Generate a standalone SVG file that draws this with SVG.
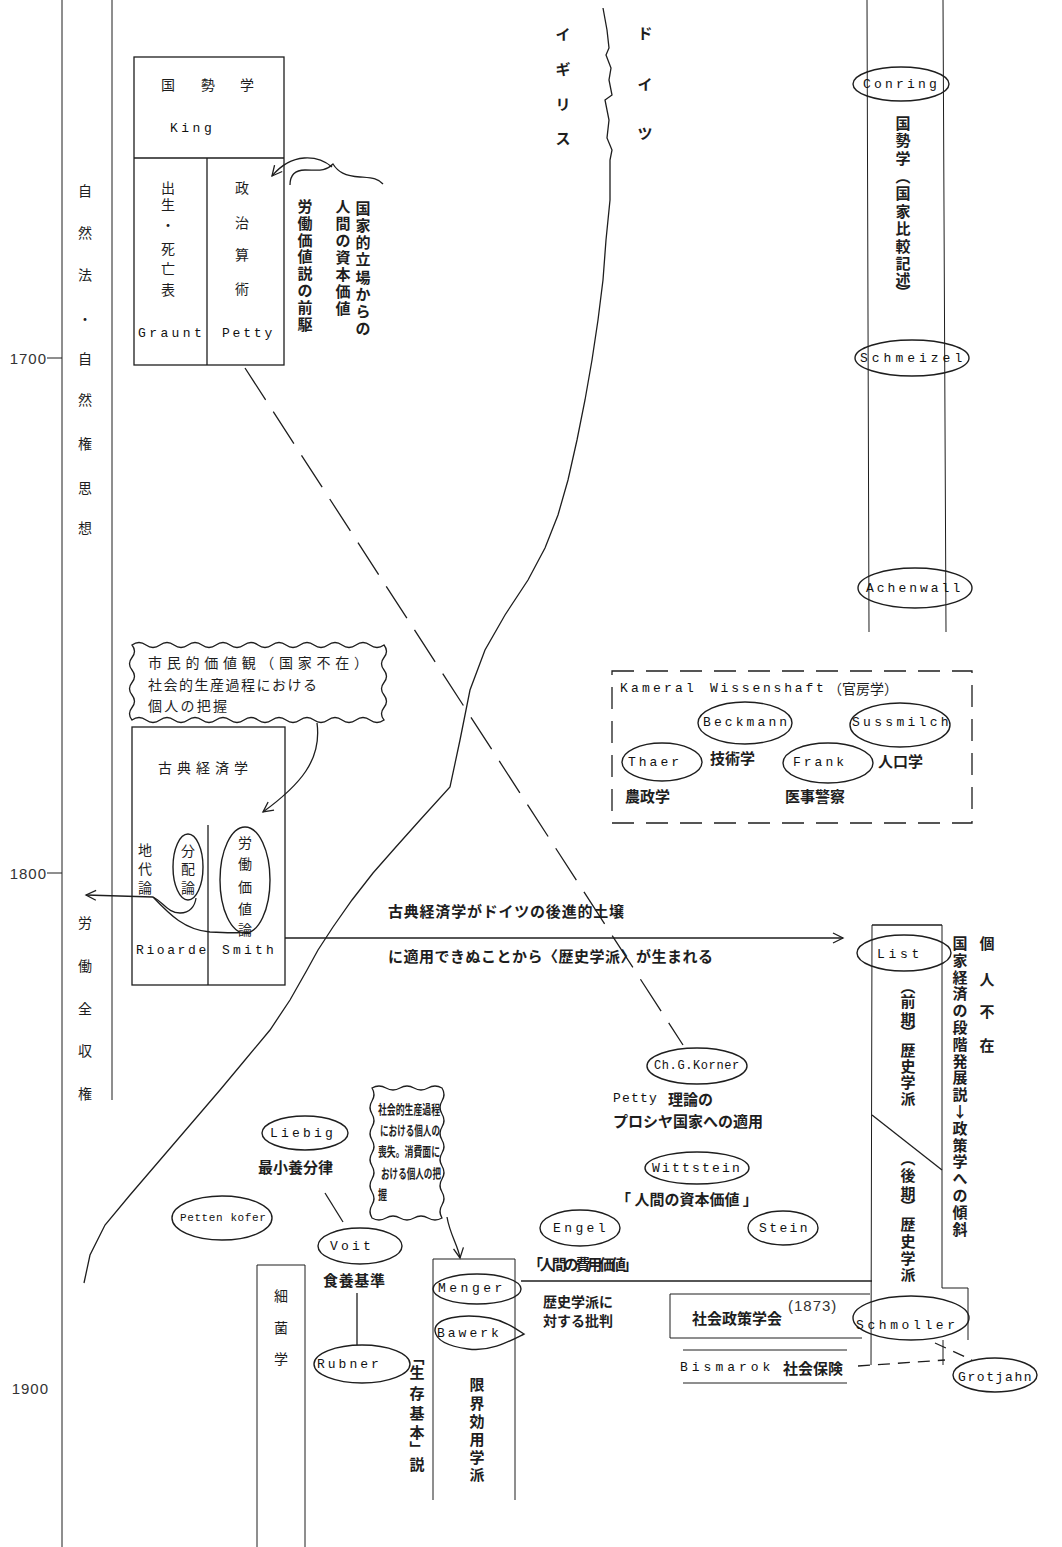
<svg xmlns="http://www.w3.org/2000/svg" width="1062" height="1547" viewBox="0 0 1062 1547">
<style>
.ln{fill:none;stroke:#1e1e1e;stroke-width:1.3}
.th{fill:none;stroke:#1e1e1e;stroke-width:1}
.dash{stroke-dasharray:38 14}
.kd{stroke-dasharray:22 12}
.sd{stroke-dasharray:12 8}
.el{fill:none;stroke:#1e1e1e;stroke-width:1.4}
.j{font-family:"Noto Sans CJK JP","Noto Sans CJK SC",sans-serif;font-size:14px;fill:#1e1e1e;dominant-baseline:central}
.jb{font-weight:bold;font-size:15px}
.v{text-anchor:middle}
.m{font-family:"Liberation Mono",monospace;font-size:13px;fill:#111;dominant-baseline:central}
.n{font-family:"Liberation Sans",sans-serif;font-size:15px;fill:#333;dominant-baseline:central;letter-spacing:1px}
</style>
<defs>
<marker id="ah" markerWidth="14" markerHeight="14" refX="11" refY="6" orient="auto" markerUnits="userSpaceOnUse">
<path d="M1,1 L11,6 L1,11" fill="none" stroke="#1e1e1e" stroke-width="1.3"/>
</marker>
</defs>
<rect width="1062" height="1547" fill="#ffffff"/>

<g id="timeline">
<line class="th" x1="62" y1="0" x2="62" y2="1547"/>
<line class="th" x1="112" y1="0" x2="112" y2="1100"/>
<text class="n" x="47" y="358" text-anchor="end">1700</text>
<line class="th" x1="47" y1="358" x2="62" y2="358"/>
<text class="n" x="47" y="873" text-anchor="end">1800</text>
<line class="th" x1="47" y1="873" x2="62" y2="873"/>
<text class="n" x="49" y="1388" text-anchor="end">1900</text>
<text class="j v" x="85 85 85 85 85 85 85 85 85" y="190 232 274 318 358 399 443 487 527">自然法・自然権思想</text>
<text class="j v" x="85 85 85 85 85" y="922 965 1008 1050 1093">労働全収権</text>
</g>

<g id="border">
<path class="ln" d="M603,8 L607,30 L609,48 L606,55 L611,68 L609,80 L612,95 L605,100 L609,120 L607,138 L612,150 L610,160 L610,200 L606,240 L603,280 L598,320 L592,360 L585,400 L577,440 L568,480 L558,515 L545,548 L528,580 L505,615 L485,650 L470,690 L460,740 L450,787 L420,820 L395,848 L373,873 L352,900 L333,927 L318,950 L307,970 L290,1000 L270,1030 L245,1060 L220,1090 L190,1125 L160,1160 L130,1195 L105,1225 L90,1255 L84,1283"/>
<text class="j jb v" x="563 563 563 563" y="33 68 103 137">イギリス</text>
<text class="j jb v" x="645 645 645" y="32 83 132">ドイツ</text>
</g>

<g id="kokuseigaku-uk">
<rect class="ln" x="134" y="57" width="150" height="308"/>
<line class="ln" x1="134" y1="158" x2="284" y2="158"/>
<line class="ln" x1="207" y1="158" x2="207" y2="365"/>
<text class="j v" x="168 208 247" y="84 84 84">国勢学</text>
<text class="m" x="170" y="128" style="letter-spacing:3.5px">King</text>
<text class="j v" x="168 168 168 168 168 168" y="187 204 224 248 268 289">出生・死亡表</text>
<text class="j v" x="242 242 242 242" y="187 222 254 288">政治算術</text>
<text class="m" x="138" y="333" style="letter-spacing:3.4px">Graunt</text>
<text class="m" x="222" y="333" style="letter-spacing:2.8px">Petty</text>
</g>

<g id="petty-note">
<text class="j jb v" x="305 305 305 305 305 305 305 305" y="205 222 239 255 272 289 306 323">労働価値説の前駆</text>
<text class="j jb v" x="343 343 343 343 343 343 343" y="205 222 239 256 273 290 307">人間の資本価値</text>
<text class="j jb v" x="363 363 363 363 363 363 363 363" y="207 224 241 258 276 293 310 327">国家的立場からの</text>
</g>

<g id="kokuseigaku-de">
<line class="th" x1="867" y1="0" x2="869" y2="632"/>
<line class="th" x1="943" y1="0" x2="946" y2="632"/>
<ellipse class="el" cx="901" cy="84" rx="48" ry="17" fill="#fff"/>
<text class="m" x="863" y="84" style="letter-spacing:3.2px">Conring</text>
<text class="j jb v" x="903 903 903 903 903 903 903 903 903 903 903" y="122 139 157 175 192 210 227 245 262 278 291">国勢学︵国家比較記述︶</text>
<ellipse class="el" cx="912" cy="358" rx="57" ry="18" fill="#fff"/>
<text class="m" x="860" y="358" style="letter-spacing:4px">Schmeizel</text>
<ellipse class="el" cx="915" cy="588" rx="57" ry="20" fill="#fff"/>
<text class="m" x="866" y="588" style="letter-spacing:3px">Achenwall</text>
</g>

<g id="kameral">
<rect class="ln kd" x="612" y="671" width="360" height="152"/>
<text class="m" x="620" y="688" style="letter-spacing:3.2px">Kameral</text>
<text class="m" x="710" y="688" style="letter-spacing:2.8px">Wissenshaft</text>
<text class="j" x="828" y="688">（官房学）</text>
<ellipse class="el" cx="745" cy="723" rx="47" ry="21"/>
<text class="m" x="703" y="722" style="letter-spacing:3.1px">Beckmann</text>
<ellipse class="el" cx="900" cy="725" rx="50" ry="22"/>
<text class="m" x="852" y="722" style="letter-spacing:3.3px">Sussmilch</text>
<ellipse class="el" cx="662" cy="762" rx="40" ry="19"/>
<text class="m" x="628" y="762" style="letter-spacing:3px">Thaer</text>
<ellipse class="el" cx="828" cy="763" rx="45" ry="20"/>
<text class="m" x="793" y="762" style="letter-spacing:3px">Frank</text>
<text class="j jb" x="710" y="757">技術学</text>
<text class="j jb" x="878" y="760">人口学</text>
<text class="j jb" x="625" y="795">農政学</text>
<text class="j jb" x="785" y="795">医事警察</text>
</g>

<g id="civil-values">
<path class="ln" d="M132,645 q7,-5 14,0 t14,0 t14,0 t14,0 t14,0 t14,0 t14,0 t14,0 t14,0 t14,0 t14,0 t14,0 t14,0 t14,0 t14,0 t14,0 t14,0 t14,0 q5,6.25 0,12.5 t0,12.5 t0,12.5 t0,12.5 t0,12.5 t0,12.5 q-7,5 -14,0 t-14,0 t-14,0 t-14,0 t-14,0 t-14,0 t-14,0 t-14,0 t-14,0 t-14,0 t-14,0 t-14,0 t-14,0 t-14,0 t-14,0 t-14,0 t-14,0 t-14,0 q-5,-6.25 0,-12.5 t0,-12.5 t0,-12.5 t0,-12.5 t0,-12.5 t0,-12.5 Z"/>
<text class="j" x="148" y="662" textLength="220">市民的価値観（国家不在）</text>
<text class="j" x="148" y="684" textLength="169">社会的生産過程における</text>
<text class="j" x="148" y="705" textLength="79">個人の把握</text>
</g>

<g id="classical">
<rect class="ln" x="132" y="727" width="153" height="258"/>
<line class="ln" x1="208" y1="825" x2="208" y2="985"/>
<text class="j" x="158" y="767" textLength="90">古典経済学</text>
<text class="j v" x="145 145 145" y="849 868 887">地代論</text>
<ellipse class="el" cx="188" cy="867" rx="15" ry="33"/>
<text class="j v" x="188 188 188" y="850 868 887">分配論</text>
<ellipse class="el" cx="245" cy="880" rx="25" ry="53"/>
<text class="j v" x="245 245 245 245 245" y="842 863 886 908 929">労働価値論</text>
<text class="m" x="136" y="950" style="letter-spacing:2.6px">Rioarde</text>
<text class="m" x="222" y="950" style="letter-spacing:3.2px">Smith</text>
</g>

<g id="list-col">
<line class="ln" x1="872" y1="925" x2="942" y2="925"/>
<line class="th" x1="872" y1="925" x2="871" y2="1365"/>
<line class="th" x1="942" y1="925" x2="942" y2="1288"/>
<path class="th" d="M942,1288 H968 V1340"/>
<line class="th" x1="943" y1="1340" x2="943" y2="1365"/>
<line class="ln" x1="872" y1="1115" x2="942" y2="1170"/>
<ellipse class="el" cx="904" cy="953" rx="47" ry="18" fill="#fff"/>
<text class="m" x="877" y="954" style="letter-spacing:3.7px">List</text>
<text class="j jb v" x="908 908 908 908 908 908 908 908" y="985 1000 1018 1031 1049 1065 1081 1097">︵前期︶歴史学派</text>
<text class="j jb v" x="908 908 908 908 908 908 908 908" y="1157 1174 1192 1205 1223 1240 1257 1273">︵後期︶歴史学派</text>
<text class="j jb v" x="960 960 960 960 960 960 960 960 960 960 960 960 960 960 960 960 960 960" y="942 959 976 992 1009 1026 1043 1060 1076 1093 1110 1127 1144 1160 1177 1194 1211 1228">国家経済の段階発展説↓政策学への傾斜</text>
<text class="j jb v" x="987 987 987 987" y="942 978 1010 1044">個人不在</text>
</g>

<g id="korner">
<ellipse class="el" cx="697" cy="1066" rx="50" ry="18"/>
<text class="m" x="654" y="1066" style="font-size:12px;letter-spacing:0.6px">Ch.G.Korner</text>
<text class="m" x="613" y="1098" style="letter-spacing:1.2px">Petty</text>
<text class="j jb" x="668" y="1098">理論の</text>
<text class="j jb" x="613" y="1120">プロシヤ国家への適用</text>
</g>

<g id="wittstein">
<ellipse class="el" cx="697" cy="1168" rx="52" ry="16"/>
<text class="m" x="652" y="1168" style="letter-spacing:2.2px">Wittstein</text>
<text class="j jb" x="616" y="1198">「 人間の資本価値 」</text>
</g>

<g id="engel">
<ellipse class="el" cx="580" cy="1228" rx="40" ry="18"/>
<text class="m" x="553" y="1228" style="letter-spacing:3.4px">Engel</text>
<text class="j jb" x="528" y="1263" textLength="110">「人間の費用価値」</text>
</g>

<g id="stein">
<ellipse class="el" cx="783" cy="1228" rx="35" ry="17"/>
<text class="m" x="759" y="1228" style="letter-spacing:2.4px">Stein</text>
</g>

<g id="consumption-note">
<path class="ln" d="M372,1088 q7,-4 14,0 t14,0 t14,0 t14,0 t14,0 q4,6.5 0,13 t0,13 t0,13 t0,13 t0,13 t0,13 t0,13 t0,13 t0,13 t0,13 q-7,4 -14,0 t-14,0 t-14,0 t-14,0 t-14,0 q-4,-6.5 0,-13 t0,-13 t0,-13 t0,-13 t0,-13 t0,-13 t0,-13 t0,-13 t0,-13 t0,-13 Z"/>
<text class="j jb" x="378" y="1108" style="font-size:13px" textLength="62" lengthAdjust="spacingAndGlyphs">社会的生産過程</text>
<text class="j jb" x="380" y="1129" style="font-size:13px" textLength="60" lengthAdjust="spacingAndGlyphs">における個人の</text>
<text class="j jb" x="378" y="1150" style="font-size:13px" textLength="62" lengthAdjust="spacingAndGlyphs">喪失。消費面に</text>
<text class="j jb" x="381" y="1172" style="font-size:13px" textLength="60" lengthAdjust="spacingAndGlyphs">おける個人の把</text>
<text class="j jb" x="378" y="1193" style="font-size:13px" textLength="9" lengthAdjust="spacingAndGlyphs">握</text>
</g>

<g id="liebig">
<ellipse class="el" cx="305" cy="1133" rx="43" ry="17"/>
<text class="m" x="270" y="1133" style="letter-spacing:3.2px">Liebig</text>
<text class="j jb" x="258" y="1166">最小養分律</text>
</g>

<g id="pettenkofer">
<ellipse class="el" cx="222" cy="1218" rx="50" ry="22"/>
<text class="m" x="180" y="1218" style="font-size:11px;letter-spacing:0.6px">Petten kofer</text>
</g>

<g id="voit">
<ellipse class="el" cx="360" cy="1246" rx="42" ry="18"/>
<text class="m" x="330" y="1246" style="letter-spacing:3.2px">Voit</text>
<text class="j jb" x="323" y="1279" textLength="62">食養基準</text>
</g>

<g id="bacteriology">
<line class="th" x1="257" y1="1265" x2="305" y2="1265"/>
<line class="th" x1="257" y1="1265" x2="257" y2="1547"/>
<line class="th" x1="305" y1="1265" x2="305" y2="1547"/>
<text class="j v" x="281 281 281" y="1295 1327 1358">細菌学</text>
</g>

<g id="rubner">
<ellipse class="el" cx="362" cy="1364" rx="48" ry="19"/>
<text class="m" x="317" y="1364" style="letter-spacing:3px">Rubner</text>
<text class="j jb v" x="417 417 417 417 417 417 417" y="1356 1371 1392 1412 1431 1447 1463">﹁生存基本﹂説</text>
</g>

<g id="marginal">
<line class="th" x1="433" y1="1259" x2="515" y2="1259"/>
<line class="th" x1="433" y1="1259" x2="433" y2="1500"/>
<line class="th" x1="515" y1="1259" x2="515" y2="1500"/>
<ellipse class="el" cx="477" cy="1289" rx="44" ry="15" fill="#fff"/>
<text class="m" x="438" y="1288" style="letter-spacing:3.5px">Menger</text>
<path class="el" d="M435,1331 C434,1318 462,1313 490,1318 C505,1321 515,1328 524,1334 C508,1342 490,1352 468,1349 C447,1346 436,1340 435,1331 Z" fill="#fff"/>
<text class="m" x="437" y="1333" style="letter-spacing:3px">Bawerk</text>
<text class="j jb v" x="477 477 477 477 477 477" y="1383 1402 1420 1438 1456 1473">限界効用学派</text>
<text class="j jb" x="543" y="1301" style="font-size:14px">歴史学派に</text>
<text class="j jb" x="543" y="1320" style="font-size:14px">対する批判</text>
</g>

<g id="verein">
<path class="th" d="M870,1294 H670 V1338 H862"/>
<text class="j jb" x="692" y="1317">社会政策学会</text>
<text class="n" x="788" y="1305">(1873)</text>
</g>

<g id="schmoller">
<ellipse class="el" cx="911" cy="1318" rx="58" ry="22" fill="#fff"/>
<text class="m" x="856" y="1325" style="letter-spacing:3.6px">Schmoller</text>
</g>

<g id="bismarck">
<line class="th" x1="683" y1="1350" x2="847" y2="1350"/>
<line class="th" x1="683" y1="1383" x2="847" y2="1383"/>
<text class="m" x="680" y="1367" style="letter-spacing:4px">Bismarok</text>
<text class="j jb" x="783" y="1367">社会保険</text>
</g>

<g id="grotjahn">
<ellipse class="el" cx="995" cy="1375" rx="42" ry="17"/>
<text class="m" x="958" y="1377" style="letter-spacing:1.6px">Grotjahn</text>
</g>

<g id="connectors">
<path class="ln dash" d="M245,368 L683,1045"/>
<path class="ln" d="M290,185 C290,175 295,170 305,170 C318,170 325,172 333,164 C338,172 345,176 360,177 C372,178 378,178 383,184"/>
<path class="ln" d="M332,167 C318,155 292,152 272,176" marker-end="url(#ah)"/>
<path class="ln" d="M317,723 C322,760 300,785 263,812" marker-end="url(#ah)"/>
<path class="ln" d="M153,897 L86,895" marker-end="url(#ah)"/>
<path class="ln" d="M153,897 C163,902 168,913 180,913 C190,913 195,906 196,898"/>
<path class="ln" d="M153,897 C170,915 185,930 210,932 C228,933 240,933 248,932"/>
<path class="ln" d="M285,938 L843,938" marker-end="url(#ah)"/>
<path class="ln" d="M447,1217 C450,1235 458,1245 460,1258" marker-end="url(#ah)"/>
<line class="ln" x1="325" y1="1193" x2="343" y2="1222"/>
<line class="ln" x1="357" y1="1293" x2="357" y2="1345"/>
<line class="ln" x1="521" y1="1281" x2="872" y2="1281"/>
<path class="ln sd" d="M858,1366 L945,1360"/>
<path class="ln sd" d="M935,1343 L972,1360"/>
</g>

<g id="mid-text">
<text class="j jb" x="388" y="910" textLength="236">古典経済学がドイツの後進的土壌</text>
<text class="j jb" x="388" y="955" textLength="325">に適用できぬことから〈歴史学派〉が生まれる</text>
</g>
</svg>
